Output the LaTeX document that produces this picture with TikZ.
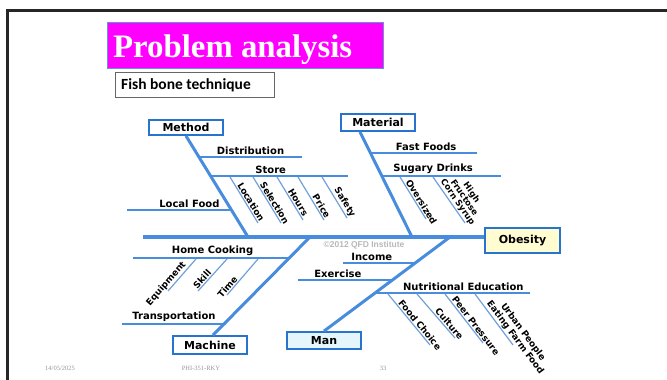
\documentclass[tikz,border=0pt]{standalone}
\usepackage{fontspec}
\setmainfont{Liberation Serif}
\newfontfamily\lblfont{DejaVu Sans}
\newfontfamily\calfont{Carlito}
\newfontfamily\wmfont{Liberation Sans}
\definecolor{bonec}{RGB}{72,140,222}
\definecolor{twigc}{RGB}{110,160,220}
\definecolor{boxc}{RGB}{40,115,205}
\definecolor{titlec}{RGB}{255,0,255}
\definecolor{titleedge}{RGB}{100,150,215}
\definecolor{manfill}{RGB}{228,246,252}
\definecolor{obfill}{RGB}{255,252,210}
\definecolor{footc}{RGB}{150,150,150}
\tikzset{
  catbox/.style={draw=boxc, line width=1.8pt, fill=white, minimum width=74pt, minimum height=16pt, inner sep=0pt, font=\lblfont\bfseries\fontsize{11}{13}\selectfont},
  bone/.style={draw=bonec, line width=3pt},
  branch/.style={draw=bonec, line width=1.8pt},
  twig/.style={draw=twigc, line width=1.2pt},
  hlab/.style={font=\lblfont\bfseries\fontsize{10}{12}\selectfont, inner sep=1.5pt, above},
  rlab/.style={font=\lblfont\bfseries\fontsize{9}{8.5}\selectfont, inner sep=1pt, sloped, above},
  foot/.style={font=\fontsize{6.5}{8}\selectfont, text=footc}
}
\begin{document}
\begin{tikzpicture}[x=1pt,y=-1pt]
\useasboundingbox (0,0) rectangle (667,380);
% frame
\coordinate (fTL) at (7.5,10.5);
\coordinate (fTR) at (667,10.5);
\coordinate (fBL) at (7.5,380);
\draw[line width=3pt, black!85] (fTR) -- (fTL) -- (fBL);
% title
\node[draw=titleedge, line width=1pt, fill=titlec, minimum width=276pt, minimum height=46pt, inner sep=0pt] (title) at (245,45) {};
\node[anchor=base west, inner sep=0pt, text=white, font=\bfseries\fontsize{32.8}{36}\selectfont] (titletext) at (113,57) {Problem analysis};
\node[draw=black!60, line width=0.8pt, minimum width=159pt, minimum height=25pt, inner sep=0pt] (sub) at (194.5,84.5) {};
\node[anchor=base west, inner sep=0pt, font=\calfont\bfseries\fontsize{15.5}{18}\selectfont] (subtext) at (121,89.5) {Fish bone technique};

% category boxes
\node[catbox, minimum height=15pt] (method) at (186,127.5) {Method};
\node[catbox, minimum height=17pt] (material) at (378,122.5) {Material};
\node[catbox, minimum height=18pt] (machine) at (210,345) {Machine};
\node[catbox, minimum height=17pt, fill=manfill] (man) at (324,340.5) {Man};
\node[catbox, minimum width=75pt, minimum height=25pt, fill=obfill] (obesity) at (522.5,240.5) {Obesity};

% spine
\coordinate (spL) at (143,237);
\draw[bone, line width=3.6pt] (spL) -- (spL -| obesity.west);

% ---- Method
\coordinate (mB) at (248,237);
\draw[bone] (method.south) -- (mB);
\coordinate (d1) at (199,157); \coordinate (d2) at (302,157);
\draw[branch] (d1) -- node[hlab, pos=0.5]{Distribution} (d2);
\coordinate (s1) at (210,176); \coordinate (s2) at (348,176);
\draw[branch] (s1) -- node[hlab, pos=0.44]{Store} (s2);
\coordinate (lf1) at (127,210); \coordinate (lf2) at (231,210);
\draw[branch] (lf1) -- node[hlab, pos=0.6]{Local Food} (lf2);
\coordinate (t1a) at (230,177); \coordinate (t1b) at (258,223);
\coordinate (t2a) at (253,177); \coordinate (t2b) at (281,223);
\coordinate (t3a) at (277,177); \coordinate (t3b) at (303,220);
\coordinate (t4a) at (298,177); \coordinate (t4b) at (324,220);
\coordinate (t5a) at (322,177); \coordinate (t5b) at (347,218);
\draw[twig] (t1a) -- node[rlab, pos=0.6]{Location} (t1b);
\draw[twig] (t2a) -- node[rlab, pos=0.62]{Selection} (t2b);
\draw[twig] (t3a) -- node[rlab, pos=0.65]{Hours} (t3b);
\draw[twig] (t4a) -- node[rlab, pos=0.74]{Price} (t4b);
\draw[twig] (t5a) -- node[rlab, pos=0.7]{Safety} (t5b);

% ---- Material
\coordinate (matB) at (412,237);
\draw[bone] ([xshift=-18pt]material.south) -- (matB);
\coordinate (ff1) at (371,153); \coordinate (ff2) at (477,153);
\draw[branch] (ff1) -- node[hlab, pos=0.52]{Fast Foods} (ff2);
\coordinate (sd1) at (382,176); \coordinate (sd2) at (501,176);
\draw[branch] (sd1) -- node[hlab, pos=0.43]{Sugary Drinks} (sd2);
\coordinate (ov1) at (400,177); \coordinate (ov2) at (426,219);
\draw[twig] (ov1) -- node[rlab, pos=0.66]{Oversized} (ov2);
\coordinate (hf1) at (433,177); \coordinate (hf2) at (465,223);
\draw[twig] (hf1) -- node[rlab, pos=0.62, align=center, font=\lblfont\bfseries\fontsize{8.5}{7.8}\selectfont]{High\\Fructose\\Corn Syrup} (hf2);

% ---- Machine
\coordinate (maB) at (310,237);
\draw[bone] ([xshift=3pt]machine.north) -- (maB);
\coordinate (hc1) at (133,258); \coordinate (hc2) at (289,258);
\draw[branch] (hc1) -- node[hlab, pos=0.51]{Home Cooking} (hc2);
\coordinate (eq1) at (168,291); \coordinate (eq2) at (196,259);
\coordinate (sk1) at (198,291); \coordinate (sk2) at (227,259);
\coordinate (ti1) at (227,295); \coordinate (ti2) at (258,259);
\draw[twig] (eq1) -- node[rlab, pos=0.1]{Equipment} (eq2);
\draw[twig] (sk1) -- node[rlab, pos=0.27]{Skill} (sk2);
\draw[twig] (ti1) -- node[rlab, pos=0.14]{Time} (ti2);
\coordinate (tr1) at (122,324); \coordinate (tr2) at (226,324);
\draw[branch] (tr1) -- node[hlab, pos=0.5]{Transportation} (tr2);

% ---- Man
\coordinate (mnB) at (450,237);
\draw[bone] (man.north) -- (mnB);
\coordinate (in1) at (343,263); \coordinate (in2) at (415,263);
\draw[branch] (in1) -- node[hlab, pos=0.4]{Income} (in2);
\coordinate (ex1) at (298,280); \coordinate (ex2) at (393,280);
\draw[branch] (ex1) -- node[hlab, pos=0.42]{Exercise} (ex2);
\coordinate (ne1) at (375,293); \coordinate (ne2) at (530,293);
\draw[branch] (ne1) -- node[hlab, pos=0.57]{Nutritional Education} (ne2);
\coordinate (fc1) at (388,294); \coordinate (fc2) at (430,345);
\coordinate (cu1) at (417,294); \coordinate (cu2) at (455,338);
\coordinate (pp1) at (445,294); \coordinate (pp2) at (483,343);
\coordinate (ub1) at (475,294); \coordinate (ub2) at (513,345);
\draw[twig] (fc1) -- node[rlab, pos=0.67]{Food Choice} (fc2);
\draw[twig] (cu1) -- node[rlab, pos=0.75]{Culture} (cu2);
\draw[twig] (pp1) -- node[rlab, pos=0.71]{Peer Pressure} (pp2);
\draw[twig] (ub1) -- node[rlab, pos=0.93, align=center]{Urban People\\Eating Farm Food} (ub2);

% watermark
\node[font=\wmfont\bfseries\fontsize{8.5}{10}\selectfont, text=black!28, inner sep=0pt] (wm) at (364,245) {©2012 QFD Institute};

% footer
\node[foot] (date) at (60,368) {14/05/2025};
\node[foot] (code) at (201,368) {PHI-351-RKY};
\node[foot] (page) at (383,368) {33};
\end{tikzpicture}
\end{document}
